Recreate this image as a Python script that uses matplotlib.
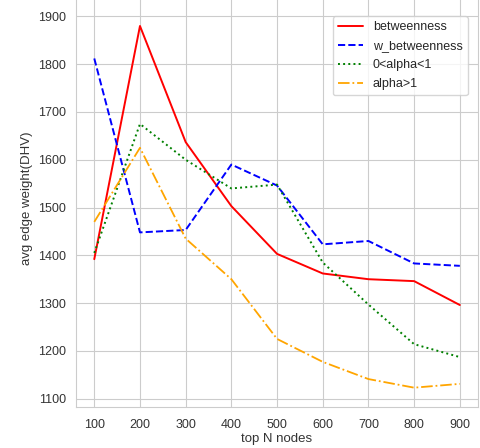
import matplotlib
matplotlib.use("Agg")
import matplotlib.pyplot as plt
import seaborn as sns

# 数据：估计值
top_n = [100, 200, 300, 400, 500, 600, 700, 800, 900]
betweenness = [1392, 1880, 1637, 1503, 1403, 1362, 1350, 1346, 1296]
w_betweenness = [1812, 1448, 1453, 1590, 1546, 1423, 1430, 1383, 1378]
alpha_lt1 = [1405, 1675, 1600, 1540, 1548, 1385, 1297, 1214, 1187]
alpha_gt1 = [1470, 1625, 1435, 1350, 1225, 1177, 1141, 1123, 1131]

sns.set_style("whitegrid")
plt.rcParams['font.family'] = ['Liberation Sans', 'DejaVu Sans']

fig = plt.figure(figsize=(4.81, 4.48), dpi=100)
# 原图顶部被裁掉，所以坐标轴略超出画布上沿
ax = fig.add_axes([0.158, 0.092, 0.836, 0.93])

ax.plot(top_n, betweenness, color='red', linestyle='-', linewidth=1.4, label='betweenness')
ax.plot(top_n, w_betweenness, color='blue', linestyle='--', linewidth=1.4, label='w_betweenness')
ax.plot(top_n, alpha_lt1, color='green', linestyle=':', linewidth=1.4, label='0<alpha<1')
ax.plot(top_n, alpha_gt1, color='orange', linestyle='-.', linewidth=1.3, label='alpha>1')

ax.set_xticks(top_n)
ax.set_ylim(1083, 1955)
ax.tick_params(labelsize=9, colors='#333333')
ax.tick_params(axis='x', pad=5)
ax.set_xlabel('top N nodes', fontsize=9.5, color='#333333', labelpad=2)
ax.set_ylabel('avg edge weight(DHV)', fontsize=9.5, color='#333333')
ax.legend(loc='upper right', fontsize=9, frameon=True,
          bbox_to_anchor=(0.99, 0.952), labelspacing=0.55)

fig.savefig('out.png', dpi=100)
